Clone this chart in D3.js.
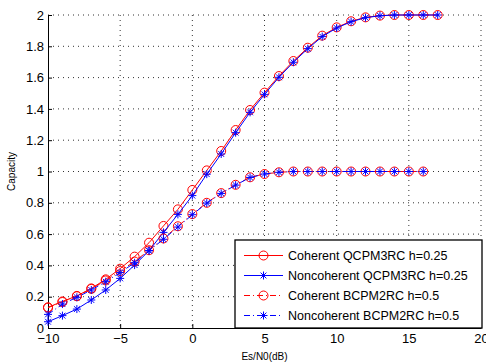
<!DOCTYPE html>
<html>
<head>
<meta charset="utf-8">
<script src="https://cdn.jsdelivr.net/npm/d3@7"></script>
<style>
  body { margin: 0; background: #fff; }
  svg { display: block; font-family: "Liberation Sans", Arial, sans-serif; }
  .grid line { stroke: #333; stroke-dasharray: 1,4; stroke-width: 1; }
  .axis path, .axis line { stroke: #000; stroke-width: 1; }
  .axis text { font-size: 13px; fill: #000; }
</style>
</head>
<body>
<div id="chart"></div>
<script>
// Es/N0 (dB) points
var snrQ = [-10, -9, -8, -7, -6, -5, -4, -3, -2, -1, 0, 1, 2, 3, 4, 5, 6, 7, 8, 9, 10, 11, 12, 13, 14, 15, 16, 17];
var snrB = [-10, -9, -8, -7, -6, -5, -4, -3, -2, -1, 0, 1, 2, 3, 4, 5, 6, 7, 8, 9, 10, 11, 12, 13, 14, 15, 16];

var cohQCPM = [0.132, 0.170, 0.205, 0.253, 0.311, 0.379, 0.456, 0.545, 0.652, 0.758, 0.882, 1.007, 1.131, 1.265, 1.393, 1.504, 1.610, 1.706, 1.791, 1.868, 1.921, 1.960, 1.985, 1.996, 2.0, 2.0, 2.0, 2.0];
var noncohQCPM = [0.040, 0.079, 0.121, 0.179, 0.243, 0.317, 0.402, 0.494, 0.611, 0.726, 0.846, 0.983, 1.112, 1.248, 1.378, 1.493, 1.602, 1.698, 1.785, 1.862, 1.917, 1.957, 1.983, 1.995, 2.0, 2.0, 2.0, 2.0];
var cohBCPM = [0.130, 0.166, 0.203, 0.250, 0.304, 0.364, 0.425, 0.497, 0.572, 0.650, 0.728, 0.800, 0.862, 0.915, 0.963, 0.984, 0.995, 1.0, 1.0, 1.0, 1.0, 1.0, 1.0, 1.0, 1.0, 1.0, 1.0];
var noncohBCPM = [0.087, 0.153, 0.196, 0.243, 0.296, 0.354, 0.417, 0.494, 0.567, 0.645, 0.724, 0.798, 0.860, 0.913, 0.962, 0.984, 0.995, 1.0, 1.0, 1.0, 1.0, 1.0, 1.0, 1.0, 1.0, 1.0, 1.0];

var xTicks = [-10, -5, 0, 5, 10, 15, 20];
var yTicks = [0, 0.2, 0.4, 0.6, 0.8, 1, 1.2, 1.4, 1.6, 1.8, 2];
var legendNames = ["Coherent QCPM3RC h=0.25", "Noncoherent QCPM3RC h=0.25", "Coherent BCPM2RC h=0.5", "Noncoherent BCPM2RC h=0.5"];

var W = 486, H = 362;
var margin = { top: 15, right: 5, bottom: 34, left: 48 };
var width = W - margin.left - margin.right,
    height = H - margin.top - margin.bottom;

var svg = d3.select("#chart").append("svg")
    .attr("width", W)
    .attr("height", H);
var g = svg.append("g")
    .attr("transform", "translate(" + margin.left + "," + margin.top + ")");

var x = d3.scaleLinear().domain([-10, 20]).range([0, width]);
var y = d3.scaleLinear().domain([0, 2]).range([height, 0]);

// dotted grid
g.append("g").attr("class", "grid")
    .selectAll("line").data(xTicks.slice(1)).enter().append("line")
    .attr("x1", function (d) { return x(d); }).attr("x2", function (d) { return x(d); })
    .attr("y1", 0).attr("y2", height);
g.append("g").attr("class", "grid")
    .selectAll("line").data(yTicks.slice(1)).enter().append("line")
    .attr("y1", function (d) { return y(d); }).attr("y2", function (d) { return y(d); })
    .attr("x1", 0).attr("x2", width);

var fmtX = function (d) { return d < 0 ? "\u2212" + Math.abs(d) : d; };

g.append("g").attr("class", "axis")
    .attr("transform", "translate(0," + height + ")")
    .call(d3.axisBottom(x).tickValues(xTicks).tickFormat(fmtX).tickSizeInner(-4).tickSizeOuter(0).tickPadding(6));
g.append("g").attr("class", "axis")
    .call(d3.axisLeft(y).tickValues(yTicks).tickFormat(d3.format("~g")).tickSizeInner(-4).tickSizeOuter(0).tickPadding(4));

// axis titles
svg.append("text")
    .attr("transform", "translate(15," + (margin.top + height / 2) + ") rotate(-90)")
    .attr("text-anchor", "middle")
    .style("font-size", "10px")
    .text("Capacity");
svg.append("text")
    .attr("x", margin.left + x(5))
    .attr("y", 360)
    .attr("text-anchor", "middle")
    .style("font-size", "10px")
    .text("Es/N0(dB)");

var series = [
    { name: legendNames[0], xs: snrQ, ys: cohQCPM, color: "#ff0000", marker: "circle", dash: null },
    { name: legendNames[1], xs: snrQ, ys: noncohQCPM, color: "#0000ff", marker: "star", dash: null },
    { name: legendNames[2], xs: snrB, ys: cohBCPM, color: "#ff0000", marker: "circle", dash: "6,3,1,3" },
    { name: legendNames[3], xs: snrB, ys: noncohBCPM, color: "#0000ff", marker: "star", dash: "6,3,1,3" }
];

var starPath = "M-4,0L4,0M0,-4L0,4M-2.9,-2.9L2.9,2.9M-2.9,2.9L2.9,-2.9";

function drawMarker(sel, s) {
    if (s.marker === "circle") {
        sel.append("circle").attr("r", 4.5)
            .attr("fill", "none").attr("stroke", s.color).attr("stroke-width", 1);
    } else {
        sel.append("path").attr("d", starPath)
            .attr("fill", "none").attr("stroke", s.color).attr("stroke-width", 1);
    }
}

var line = d3.line()
    .x(function (d) { return x(d[0]); })
    .y(function (d) { return y(d[1]); });

series.forEach(function (s) {
    var pts = s.xs.map(function (v, i) { return [v, s.ys[i]]; });
    g.append("path")
        .datum(pts)
        .attr("d", line)
        .attr("fill", "none")
        .attr("stroke", s.color)
        .attr("stroke-width", 1)
        .attr("stroke-dasharray", s.dash);
    g.selectAll(null).data(pts).enter().append("g")
        .attr("transform", function (d) { return "translate(" + x(d[0]) + "," + y(d[1]) + ")"; })
        .each(function () { drawMarker(d3.select(this), s); });
});

// legend
var lg = svg.append("g").attr("transform", "translate(235,240)");
lg.append("rect")
    .attr("width", 247).attr("height", 88)
    .attr("fill", "#fff").attr("stroke", "#000").attr("stroke-width", 1.3);

var item = lg.selectAll(".legend-item").data(series).enter().append("g")
    .attr("class", "legend-item")
    .attr("transform", function (d, i) { return "translate(0," + (15.5 + i * 20) + ")"; });
item.append("line")
    .attr("x1", 9).attr("x2", 48)
    .attr("stroke", function (d) { return d.color; })
    .attr("stroke-width", 1)
    .attr("stroke-dasharray", function (d) { return d.dash; });
item.append("g").attr("transform", "translate(28.5,0)")
    .each(function (d) { drawMarker(d3.select(this), d); });
item.append("text")
    .attr("x", 53).attr("dy", "0.35em")
    .style("font-size", "12.5px")
    .text(function (d) { return d.name; });
</script>
</body>
</html>
